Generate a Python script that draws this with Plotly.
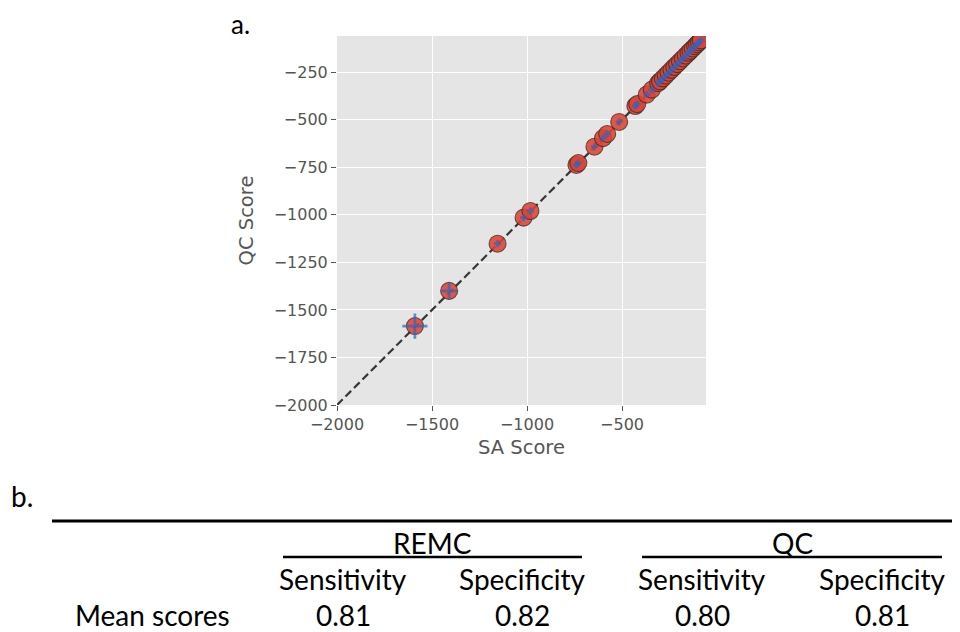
import plotly.graph_objects as go

# ---- data ----
sa_scores = [-1590, -1410, -1155, -1018, -982, -740, -730, -645, -600, -578, -515,
             -430, -420, -370, -343, -310, -300, -285, -270, -255, -240, -225, -210,
             -195, -180, -165, -150, -140, -128, -115, -105, -95, -85]
qc_scores = [-1585, -1400, -1152, -1015, -980, -738, -728, -642, -597, -575, -512,
             -428, -418, -368, -342, -308, -298, -283, -268, -253, -238, -223, -208,
             -193, -178, -163, -148, -138, -126, -113, -103, -93, -83]
x_ticks = [-2000, -1500, -1000, -500]
y_ticks = [-2000, -1750, -1500, -1250, -1000, -750, -500, -250]

groups = ["REMC", "QC"]
metrics = ["Sensitivity", "Specificity"]
row_label = "Mean scores"
mean_scores = [0.81, 0.82, 0.80, 0.81]

# ---- styles / layout helpers ----
plus_sizes = [18, 11] + [5] * (len(sa_scores) - 2)
plus_widths = 2.8
OFF = 8                      # page body margin
W, H = 960 - OFF, 632 - OFF
def px(x):
    return (x - OFF) / W
def py(y):
    return 1 - (y - OFF) / H

fig = go.Figure()
fig.add_trace(go.Scatter(x=[-2000, 0], y=[-2000, 0], mode="lines",
                         line=dict(color="rgba(45,45,45,0.95)", width=2.2, dash="8px,4px"),
                         hoverinfo="skip", showlegend=False))
fig.add_trace(go.Scatter(x=sa_scores, y=qc_scores, mode="markers",
                         marker=dict(symbol="circle", size=17, color="rgba(224,66,46,0.88)",
                                     line=dict(color="rgba(40,40,40,0.7)", width=1.1)),
                         showlegend=False))
fig.add_trace(go.Scatter(x=sa_scores, y=qc_scores, mode="markers",
                         marker=dict(symbol="cross-thin", size=plus_sizes,
                                     line=dict(color="#2A66C8", width=plus_widths)),
                         showlegend=False))

axis_common = dict(showgrid=True, gridcolor="white", gridwidth=1.4, zeroline=False,
                   ticks="outside", ticklen=5, tickcolor="#555555", tickwidth=1,
                   tickfont=dict(family="DejaVu Sans", size=16, color="#555555"),
                   showline=False, automargin=False)
fig.update_xaxes(range=[-2000, -58], tickvals=x_ticks, domain=[px(337), px(706)],
                 title=dict(text="SA Score", font=dict(family="DejaVu Sans", size=19.5, color="#555555"),
                            standoff=7), **axis_common)
fig.update_yaxes(range=[-2000, -60], tickvals=y_ticks, domain=[py(405), py(36)],
                 title=dict(text="QC Score", font=dict(family="DejaVu Sans", size=19.5, color="#555555"),
                            standoff=14), **axis_common)

ann = []
tfont = dict(family="Lato, Open Sans, sans-serif", size=28, color="black")
ann.append(dict(x=px(240), y=py(24), text="a.", font=dict(family="Lato, Open Sans, sans-serif",
                                                          size=26, color="black")))
ann.append(dict(x=px(22), y=py(496), text="b.", font=tfont))
group_centers = [432, 792]
col_centers = [343, 522, 702, 882]
for g, c in zip(groups, group_centers):
    ann.append(dict(x=px(c), y=py(543), text=g, font=tfont))
for i, c in enumerate(col_centers):
    ann.append(dict(x=px(c), y=py(579), text=metrics[i % 2], font=tfont))
    ann.append(dict(x=px(c), y=py(615), text=f"{mean_scores[i]:.2f}", font=tfont))
ann.append(dict(x=px(152), y=py(615), text=row_label, font=tfont))
for a in ann:
    a.update(xref="paper", yref="paper", showarrow=False, xanchor="center", yanchor="middle")

shapes = [
    dict(type="line", xref="paper", yref="paper", x0=px(52), x1=px(960), y0=py(521), y1=py(521),
         line=dict(color="black", width=3)),
    dict(type="line", xref="paper", yref="paper", x0=px(283), x1=px(582), y0=py(557), y1=py(557),
         line=dict(color="black", width=2.5)),
    dict(type="line", xref="paper", yref="paper", x0=px(642), x1=px(942), y0=py(557), y1=py(557),
         line=dict(color="black", width=2.5)),
]

fig.update_layout(width=W, height=H, margin=dict(l=0, r=0, t=0, b=0, pad=0, autoexpand=False),
                  paper_bgcolor="white", plot_bgcolor="#E5E5E5",
                  annotations=ann, shapes=shapes, showlegend=False)
fig.write_html("out.html")
